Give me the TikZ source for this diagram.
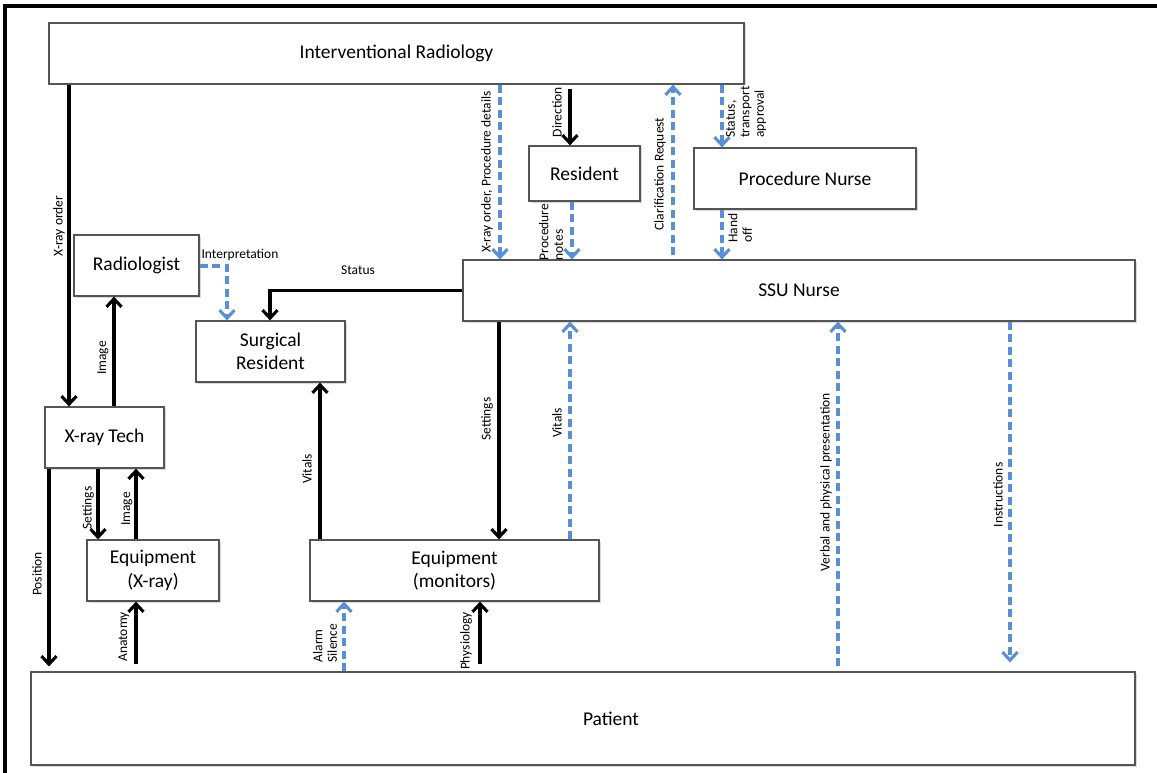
\documentclass[tikz,border=0pt]{standalone}
\usepackage{fontspec}
\setmainfont{Carlito}
\usetikzlibrary{arrows.meta,shadows}
\definecolor{flowblue}{RGB}{88,143,213}
\definecolor{boxline}{RGB}{85,85,85}
\begin{document}
\begin{tikzpicture}[x=1pt,y=-1pt,
  box/.style={draw=boxline,line width=1.2pt,fill=white,inner sep=0pt,align=center,
    font=\fontsize{19.5}{23.5}\selectfont,
    drop shadow={shadow xshift=1.5pt,shadow yshift=-1.5pt,opacity=0.3}},
  solidflow/.style={line width=3.1pt,-{Straight Barb[length=8pt,width=15pt]}},
  dashflow/.style={solidflow,draw=flowblue,dash pattern=on 8pt off 4.5pt},
  lbl/.style={rotate=90,font=\fontsize{13.5}{14.5}\selectfont,inner sep=0pt,align=left},
  hlbl/.style={font=\fontsize{13.5}{14.5}\selectfont,inner sep=0pt}]
\useasboundingbox (0,0) rectangle (1157,773);

% outer frame
\draw[line width=3.5pt] (5,773) -- (5,6) -- (1157,6);

% actors
\node[box,minimum width=695pt,minimum height=61pt] (ir)  at (396.5,53.5) {Interventional Radiology};
\node[box,minimum width=111pt,minimum height=55pt] (res) at (584.5,173.5) {Resident};
\node[box,minimum width=222pt,minimum height=61pt] (pn)  at (805,178.5) {Procedure Nurse};
\node[box,minimum width=125pt,minimum height=61pt] (rad) at (136.5,265.5) {Radiologist};
\node[box,minimum width=672pt,minimum height=61pt] (ssu) at (799,290.5) {SSU Nurse};
\node[box,minimum width=149pt,minimum height=61pt] (sr)  at (270.5,351.5) {Surgical\\Resident};
\node[box,minimum width=119pt,minimum height=61pt] (xt)  at (104.5,437.5) {X-ray Tech};
\node[box,minimum width=132pt,minimum height=61pt] (eqx) at (153,570.5) {Equipment\\(X-ray)};
\node[box,minimum width=289pt,minimum height=61pt] (eqm) at (454.5,570.5) {Equipment\\(monitors)};
\node[box,minimum width=1104pt,minimum height=93pt] (pat) at (583,718.5) {\hspace*{56pt}Patient};

% information flows
\draw[solidflow] (ir.south -| 69,0) -- (xt.north -| 69,0);
\draw[solidflow] (xt.north -| 114,0) -- (rad.south -| 114,0);
\draw[dashflow] (rad.east |- 0,266) -| (sr.north -| 227,0);
\draw[solidflow] (ssu.west) -| (sr.north -| 270,0);
\draw[solidflow] (xt.south -| 98,0) -- (eqx.north -| 98,0);
\draw[solidflow] (eqx.north -| 136,0) -- (xt.south -| 136,0);
\draw[solidflow,shorten >=5pt] (xt.south -| 49,0) -- (pat.north -| 49,0);
\draw[solidflow,shorten <=7pt] (pat.north -| 136,0) -- (eqx.south -| 136,0);
\draw[dashflow] (pat.north -| 344,0) -- (eqm.south -| 344,0);
\draw[solidflow,shorten <=7pt] (pat.north -| 480,0) -- (eqm.south -| 480,0);
\draw[solidflow] (eqm.north -| 320,0) -- (sr.south -| 320,0);
\draw[solidflow] (ssu.south -| 499,0) -- (eqm.north -| 499,0);
\draw[dashflow] (eqm.north -| 570,0) -- (ssu.south -| 570,0);
\draw[dashflow,shorten <=5pt] (pat.north -| 838,0) -- (ssu.south -| 838,0);
\draw[dashflow,shorten >=9pt] (ssu.south -| 1010,0) -- (pat.north -| 1010,0);
\draw[dashflow] (ir.south -| 500,0) -- (ssu.north -| 500,0);
\draw[solidflow,shorten <=4pt] (ir.south -| 570,0) -- (res.north -| 570,0);
\draw[dashflow] (res.south -| 572,0) -- (ssu.north -| 572,0);
\draw[dashflow,shorten <=4pt] (ssu.north -| 673,0) -- (ir.south -| 673,0);
\draw[dashflow] (ir.south -| 722,0) -- (pn.north -| 722,0);
\draw[dashflow] (pn.south -| 722,0) -- (ssu.north -| 722,0);

% flow labels
\node[lbl] (lxo)   at (59,226)  {X-ray order};
\node[hlbl] (lint) at (240,255) {Interpretation};
\node[hlbl] (lst)  at (358,270) {Status};
\node[lbl] (lim1)  at (103,358) {Image};
\node[lbl] (lset1) at (88,508)  {Settings};
\node[lbl] (lim2)  at (127,509) {Image};
\node[lbl] (lpos)  at (37,574)  {Position};
\node[lbl] (lana)  at (124,637) {Anatomy};
\node[lbl] (lal)   at (325,643) {Alarm\\Silence};
\node[lbl] (lphy)  at (466,641) {Physiology};
\node[lbl] (lvit1) at (307,469) {Vitals};
\node[lbl] (lset2) at (487,419) {Settings};
\node[lbl] (lvit2) at (557,423) {Vitals};
\node[lbl] (lverb) at (826,482) {Verbal and physical presentation};
\node[lbl] (lins)  at (998,495) {Instructions};
\node[lbl] (lxop)  at (487,172) {X-ray order, Procedure details};
\node[lbl] (ldir)  at (557,112) {Direction};
\node[lbl] (lpn)   at (551,232) {Procedure\\notes};
\node[lbl] (lclr)  at (660,174) {Clarification Request};
\node[lbl] (lstt)  at (746,112) {Status,\\transport\\approval};
\node[lbl] (lho)   at (740,228) {Hand\\off};
\end{tikzpicture}
\end{document}
